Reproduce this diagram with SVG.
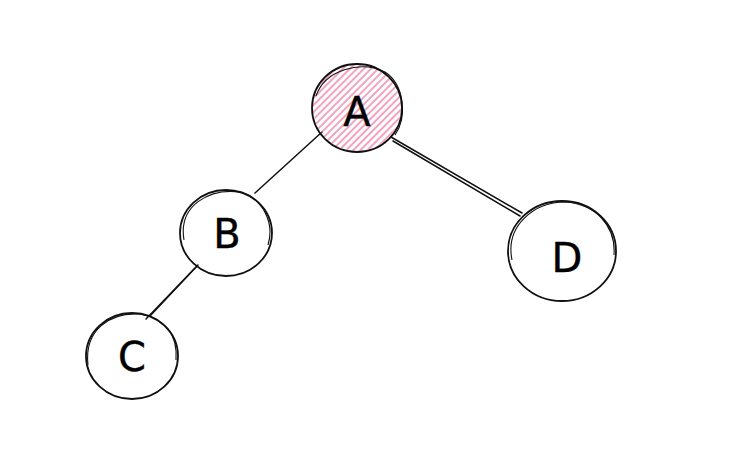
<svg xmlns="http://www.w3.org/2000/svg" width="739" height="462" viewBox="0 0 739 462">
<style>
.node{fill:none;stroke:#111;stroke-width:1.8}
.node2{fill:none;stroke:#111;stroke-width:1.1}
.lbl{font-family:"DejaVu Sans",sans-serif;font-size:40px;fill:#000;stroke:#000;stroke-width:0.4;text-anchor:middle}
.edge{stroke:#111;stroke-width:1.5;fill:none;stroke-linecap:round}
</style>
<defs>
<pattern id="hatch" width="5" height="5" patternUnits="userSpaceOnUse" patternTransform="rotate(45)">
<line x1="1" y1="0" x2="1" y2="5" stroke="#e64980" stroke-width="1.2" opacity="0.85"/>
</pattern>
</defs>
<rect width="739" height="462" fill="#ffffff"/>
<g id="connectors">
<path class="edge" d="M322 132 L255 193"/>
<path class="edge" d="M391 137 L522 213"/>
<path class="edge" d="M393 141 L520 216" stroke-width="1"/>
<path class="edge" d="M198 265 L150 316"/>
<path class="edge" d="M196 267 L146 319" stroke-width="1"/>
</g>
<g id="node-A">
<ellipse cx="357" cy="108" rx="44" ry="43" fill="url(#hatch)" stroke="none"/>
<ellipse class="node" cx="357" cy="108" rx="45" ry="44"/>
<path class="node2" d="M316 96 C325 70 360 60 385 72 C405 85 407 118 395 135"/>
<text class="lbl" x="357" y="126">A</text>
</g>
<g id="node-B">
<ellipse class="node" cx="226" cy="233" rx="46" ry="43"/>
<path class="node2" d="M184 240 C178 205 210 188 240 192 C262 198 275 222 268 245"/>
<text class="lbl" x="227" y="248">B</text>
</g>
<g id="node-C">
<ellipse class="node" cx="132" cy="356" rx="46" ry="43"/>
<path class="node2" d="M88 365 C84 330 110 312 140 314 C165 318 178 335 176 360"/>
<text class="lbl" x="132" y="371">C</text>
</g>
<g id="node-D">
<ellipse class="node" cx="562" cy="251" rx="54" ry="50"/>
<path class="node2" d="M512 260 C505 225 535 202 565 202 C595 204 616 225 614 255"/>
<text class="lbl" x="567" y="272">D</text>
</g>
</svg>
